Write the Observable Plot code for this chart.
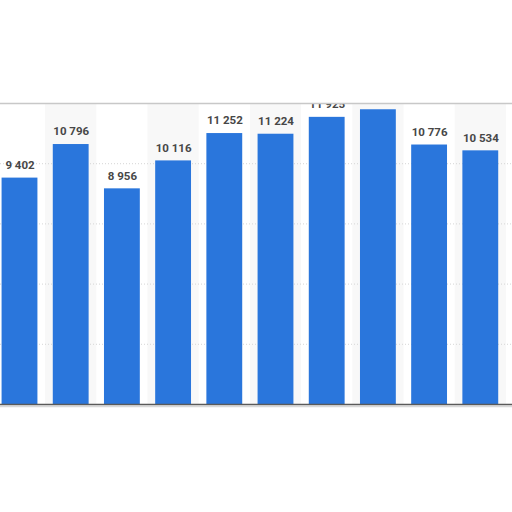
<!DOCTYPE html>
<html>
<head>
<meta charset="utf-8">
<script src="https://cdn.jsdelivr.net/npm/d3@7"></script>
<script src="https://cdn.jsdelivr.net/npm/@observablehq/plot@0.6"></script>
<style>
  html, body { margin: 0; padding: 0; background: #fff; }
</style>
</head>
<body>
<div id="chart"></div>
<script>
const categories = ["1", "2", "3", "4", "5", "6", "7", "8", "9", "10"];
const values = [9402, 10796, 8956, 10116, 11252, 11224, 11925, 12240, 10776, 10534];
const yTicks = [2500, 5000, 7500, 10000];
const yMax = 12500;

const data = categories.map((c, i) => ({
  cat: c,
  value: values[i],
  label: d3.format(",")(values[i]).replace(/,/g, " "),
  striped: i % 2 === 1
}));

const chart = Plot.plot({
  width: 512,
  height: 512,
  marginTop: 103,
  marginBottom: 108,
  marginLeft: 0,
  marginRight: 0,
  style: { fontFamily: "Roboto, 'Liberation Sans', sans-serif", background: "#fff" },
  x: { domain: categories, range: [-6.1, 505.9], paddingInner: 0.3, paddingOuter: 0.15, round: false, axis: null },
  y: { domain: [0, yMax], axis: null },
  marks: [
    Plot.barY(data.filter(d => d.striped), {
      x: "cat", y1: 0, y2: yMax, fill: "#f8f8f8",
      insetLeft: -7.7, insetRight: -7.7
    }),
    Plot.ruleY(yTicks, { stroke: "#d6d6d6", strokeDasharray: "1,2" }),
    Plot.barY(data, { x: "cat", y: "value", fill: "#2a76dc" }),
    Plot.text(data, {
      x: "cat", y: "value", text: "label", dy: -13,
      fontSize: 11.5, fontWeight: "bold", fill: "#474747", clip: true
    }),
    Plot.ruleY([yMax], { stroke: "#c8c8c8", strokeWidth: 1.5 }),
    Plot.ruleY([0], { stroke: "#d8d8d8", strokeWidth: 1.5, dy: 2 }),
    Plot.ruleY([0], { stroke: "#5a5a5a", strokeWidth: 1.5 })
  ]
});
document.getElementById("chart").appendChild(chart);
</script>
</body>
</html>
